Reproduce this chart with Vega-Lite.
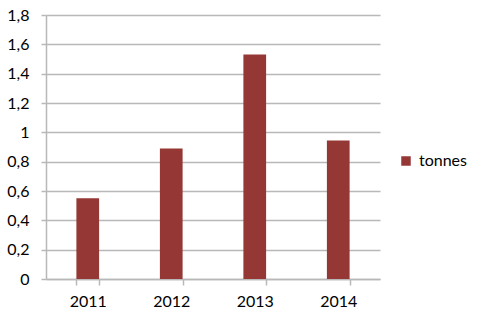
{
  "$schema": "https://vega.github.io/schema/vega-lite/v6.json",
  "autosize": {"type": "none"},
  "width": 334,
  "height": 264,
  "padding": {"left": 46, "top": 15, "right": 100, "bottom": 41},
  "background": "white",
  "data": {"values": [
    {"year": "2011", "series": "tonnes", "value": 0.55},
    {"year": "2012", "series": "tonnes", "value": 0.89},
    {"year": "2013", "series": "tonnes", "value": 1.53},
    {"year": "2014", "series": "tonnes", "value": 0.945}
  ]},
  "mark": {"type": "bar", "color": "#953735"},
  "encoding": {
    "x": {
      "field": "year", "type": "nominal", "title": null,
      "scale": {"paddingInner": 0.728, "paddingOuter": 0.364},
      "axis": {"labelAngle": 0, "tickBand": "extent", "tickSize": 6, "labelPadding": 8, "domainColor": "#b8b8b8", "tickColor": "#b8b8b8"}
    },
    "y": {
      "field": "value", "type": "quantitative", "title": null,
      "scale": {"domain": [0, 1.8], "nice": false},
      "axis": {"values": [0, 0.2, 0.4, 0.6, 0.8, 1, 1.2, 1.4, 1.6, 1.8], "labelExpr": "replace(format(datum.value, '~g'), '.', ',')", "tickSize": 5, "labelPadding": 12, "domainColor": "#b8b8b8", "tickColor": "#b8b8b8", "gridColor": "#b8b8b8", "grid": true}
    },
    "fill": {
      "field": "series", "type": "nominal", "title": null,
      "scale": {"range": ["#953735"]},
      "legend": {"orient": "none", "legendX": 352, "legendY": 138, "symbolType": "square", "symbolSize": 90, "labelFontSize": 16, "labelOffset": 5, "symbolStrokeWidth": 0}
    }
  },
  "config": {
    "font": "Lato",
    "view": {"stroke": null},
    "axis": {"labelFont": "Lato", "labelFontSize": 16, "labelColor": "#000000", "domainWidth": 1.5, "gridWidth": 1.5, "tickWidth": 1.5},
    "legend": {"labelFont": "Lato", "labelColor": "#000000"}
  }
}
